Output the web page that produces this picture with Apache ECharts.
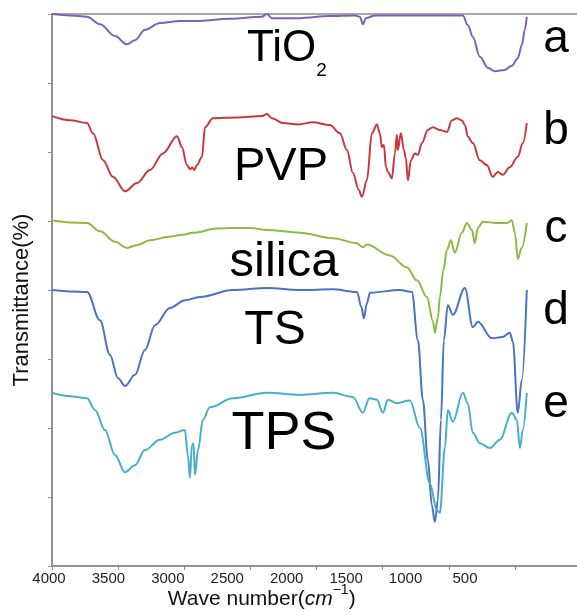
<!DOCTYPE html>
<html>
<head>
<meta charset="utf-8">
<script src="https://cdn.jsdelivr.net/npm/echarts@6/dist/echarts.min.js"></script>
<style>
html,body{margin:0;padding:0;background:#fff;}
#chart{width:577px;height:615px;}
</style>
</head>
<body>
<div id="chart"></div>
<script>
// Wave number tick labels
const xTickLabels = [4000, 3500, 3000, 2500, 2000, 1500, 1000, 500];
// Sample names and curve letters
const sampleNames = ['TiO2', 'PVP', 'silica', 'TS', 'TPS'];
const curveLetters = ['a', 'b', 'c', 'd', 'e'];

// [wave number (cm-1), transmittance (offset, arbitrary %)]
const tio2 = [[4000,80.0],[3864,79.8],[3735,79.6],[3637,78.5],[3524,76.8],[3433,75.6],[3373,76.2],[3297,77.7],[3184,78.7],[3032,79.0],[2881,79.0],[2654,79.3],[2413,79.6],[2375,80.0],[2337,79.4],[2125,79.4],[1899,79.7],[1710,79.8],[1672,79.6],[1649,78.5],[1626,79.4],[1558,79.8],[1369,79.8],[1143,79.8],[893,79.8],[856,78.4],[818,76.7],[765,73.8],[704,72.2],[651,71.7],[576,71.9],[523,72.5],[478,73.6],[447,75.5],[425,77.7],[410,79.6]];

const pvp = [[4000,65.2],[3864,64.6],[3735,64.2],[3690,62.7],[3614,58.8],[3539,56.4],[3448,54.3],[3357,55.5],[3259,57.4],[3161,59.8],[3055,62.3],[3017,60.7],[2980,58.1],[2955,57.5],[2940,57.8],[2925,57.4],[2904,58.1],[2866,59.3],[2843,63.6],[2783,64.9],[2602,65.0],[2413,65.2],[2375,65.5],[2337,64.9],[2254,64.2],[2140,64.0],[2027,64.3],[1899,63.9],[1823,62.7],[1770,60.3],[1725,57.0],[1680,54.5],[1657,53.5],[1619,55.9],[1581,62.7],[1543,64.0],[1521,62.7],[1506,60.7],[1490,61.0],[1475,57.8],[1460,57.1],[1430,56.2],[1407,59.8],[1392,62.5],[1385,60.3],[1362,62.7],[1339,60.3],[1324,59.1],[1309,55.9],[1286,58.8],[1256,59.8],[1233,59.6],[1203,61.3],[1158,63.2],[1120,63.6],[1067,63.2],[1014,62.9],[976,64.6],[939,64.9],[901,64.6],[878,63.9],[855,62.2],[818,61.3],[765,58.8],[712,58.1],[667,56.4],[629,57.1],[591,56.7],[538,57.8],[478,59.3],[440,61.3],[410,64.2]];

const silica = [[4000,50.1],[3864,49.8],[3735,49.7],[3637,48.5],[3524,47.0],[3433,46.1],[3357,46.5],[3259,47.2],[3120,47.7],[3010,48.0],[2934,48.3],[2753,48.9],[2632,49.0],[2500,49.0],[2375,48.7],[2125,48.3],[1876,47.5],[1700,46.8],[1649,46.2],[1620,46.6],[1445,45.0],[1317,43.3],[1241,41.4],[1165,39.0],[1120,35.5],[1105,33.8],[1082,36.0],[1067,39.0],[1040,43.0],[1014,45.8],[984,47.2],[954,45.4],[901,48.3],[863,49.7],[825,48.7],[803,46.8],[780,49.0],[742,49.9],[636,49.7],[561,49.7],[523,50.1],[500,48.3],[478,44.5],[447,46.2],[410,49.7]];

const ts = [[4000,40.0],[3864,39.8],[3735,39.7],[3637,35.6],[3562,30.6],[3501,27.2],[3448,26.1],[3373,27.7],[3297,31.3],[3221,34.9],[3108,37.4],[2995,38.5],[2881,39.0],[2632,40.0],[2375,40.3],[2125,40.0],[1876,40.1],[1694,39.7],[1660,37.5],[1642,35.9],[1620,38.0],[1596,39.6],[1369,40.0],[1279,39.7],[1233,32.7],[1196,24.1],[1158,15.4],[1128,8.8],[1105,6.4],[1082,9.6],[1059,21.2],[1037,32.7],[1007,37.8],[969,36.4],[878,40.3],[818,34.6],[780,35.4],[674,33.0],[591,33.2],[538,33.8],[515,32.5],[478,22.2],[447,27.0],[410,40.0]];

const tps = [[4000,25.1],[3864,24.6],[3735,24.3],[3675,22.6],[3599,19.7],[3524,16.1],[3448,13.6],[3373,14.6],[3297,16.8],[3184,18.3],[3070,19.3],[2995,19.7],[2972,16.0],[2957,12.8],[2942,17.5],[2930,17.8],[2919,13.2],[2896,16.8],[2859,21.2],[2806,23.0],[2632,24.3],[2375,25.1],[2125,24.8],[1876,25.1],[1725,24.5],[1649,22.2],[1600,24.3],[1543,24.1],[1498,22.2],[1460,24.1],[1392,23.6],[1294,24.0],[1218,20.0],[1143,12.0],[1090,8.1],[1067,7.7],[1029,17.2],[1007,22.6],[969,20.9],[893,25.1],[856,23.6],[818,19.3],[765,17.8],[689,17.1],[614,18.3],[523,22.2],[485,21.2],[462,17.1],[440,19.7],[410,25.1]];

const seriesData = [tio2, pvp, silica, ts, tps];
const colors = ['#7e62b8', '#c8393c', '#8dba45', '#4874c2', '#47afcd'];

const FONT = 'Liberation Sans, Arial, sans-serif';
const AXIS_COLOR = '#8c8c8c';

const chart = echarts.init(document.getElementById('chart'), null, {renderer: 'canvas'});

const letterY = [39, 131, 229, 311, 404];
const nameX = [247, 281, 284, 275, 284];
const nameY = [49, 167, 262, 331, 434];
const nameSize = [44, 47, 49, 48, 54];

const graphics = [];
curveLetters.forEach((t, i) => {
  graphics.push({type: 'text', style: {text: t, x: 556, y: letterY[i], textAlign: 'center', textVerticalAlign: 'middle', fontSize: 46, fontFamily: FONT, fill: '#000'}});
});
sampleNames.forEach((t, i) => {
  if (i === 0) {
    graphics.push({type: 'text', style: {text: '{m|TiO}{s|2}', x: nameX[i], y: nameY[i], textAlign: 'left', textVerticalAlign: 'middle',
      rich: {m: {fontSize: nameSize[i], fontFamily: FONT, fill: '#000'}, s: {fontSize: 19, fontFamily: FONT, fill: '#000', padding: [43, 0, 0, 0]}}}});
  } else {
    graphics.push({type: 'text', style: {text: t, x: nameX[i], y: nameY[i], textAlign: 'center', textVerticalAlign: 'middle', fontSize: nameSize[i], fontFamily: FONT, fill: '#000'}});
  }
});

const option = {
  animation: false,
  backgroundColor: '#fff',
  grid: [
    {left: 52, top: 14, width: 529, height: 552, show: true, borderColor: AXIS_COLOR, borderWidth: 1.5, outerBoundsMode: 'none', containLabel: false},
    {left: 49, top: 14, width: 475.4, height: 552, show: false, outerBoundsMode: 'none', containLabel: false}
  ],
  xAxis: [
    {type: 'value', gridIndex: 0, position: 'bottom', min: 0, max: 4000, interval: 500, inverse: true,
      axisLine: {show: true, onZero: false, lineStyle: {color: AXIS_COLOR, width: 1.5}},
      axisTick: {show: true, length: 4, lineStyle: {color: AXIS_COLOR}},
      axisLabel: {show: false}, splitLine: {show: false}},
    {type: 'value', gridIndex: 1, position: 'bottom', min: 0, max: 4000, interval: 500, inverse: true,
      axisLine: {show: false}, axisTick: {show: false}, splitLine: {show: false},
      axisLabel: {show: true, margin: 5, fontSize: 15, fontFamily: FONT, color: '#222',
        formatter: v => xTickLabels.indexOf(v) >= 0 ? String(v) : ''},
      name: 'Wave number({i|cm}{s|−1})', nameLocation: 'middle', nameGap: 17, nameMoveOverlap: false,
      nameTextStyle: {fontSize: 21, fontFamily: FONT, color: '#111', padding: [0, 50, 0, 0], verticalAlign: 'top',
        rich: {i: {fontSize: 21, fontStyle: 'italic', fontFamily: FONT, color: '#111'},
               s: {fontSize: 14, fontFamily: FONT, color: '#111', padding: [0, 0, 19, 0]}}}}
  ],
  yAxis: [
    {type: 'value', gridIndex: 0, position: 'left', min: 0, max: 80, interval: 10,
      axisLine: {show: true, onZero: false, lineStyle: {color: AXIS_COLOR, width: 1.5}},
      axisTick: {show: true, length: 4, lineStyle: {color: AXIS_COLOR}},
      axisLabel: {show: false}, splitLine: {show: false},
      name: 'Transmittance(%)', nameLocation: 'middle', nameGap: 19, nameRotate: 90, nameMoveOverlap: false,
      nameTextStyle: {fontSize: 22, fontFamily: FONT, color: '#111', padding: [0, 20, 0, 0]}},
    {type: 'value', gridIndex: 1, position: 'left', min: 0, max: 80, show: false,
      axisLine: {show: false}, axisTick: {show: false}, axisLabel: {show: false}, splitLine: {show: false}}
  ],
  series: seriesData.map((d, i) => ({
    type: 'line', xAxisIndex: 0, yAxisIndex: 0, data: d, showSymbol: false, symbol: 'none',
    smooth: 0.35, smoothMonotone: 'x', clip: false,
    lineStyle: {color: colors[i], width: 2}, itemStyle: {color: colors[i]}, z: 3 + i
  })),
  graphic: graphics
};
chart.setOption(option);
</script>
</body>
</html>
